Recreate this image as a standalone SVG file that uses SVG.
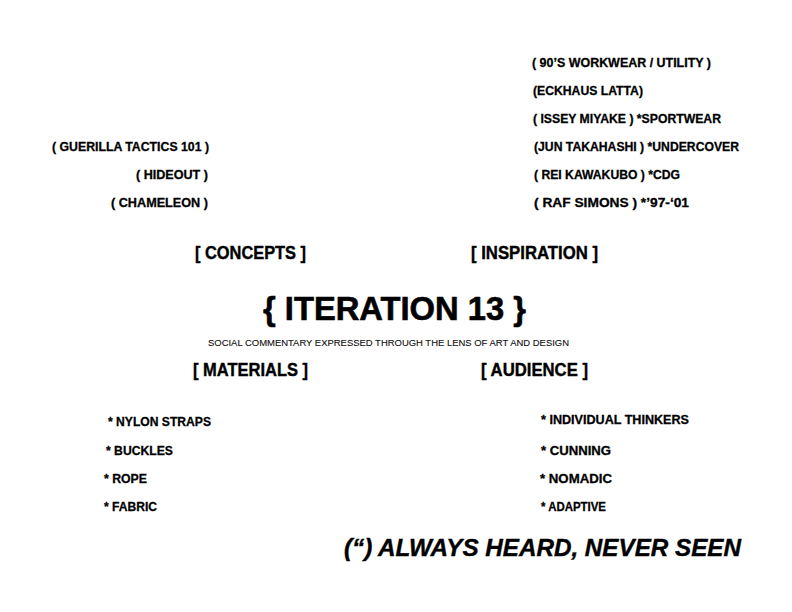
<svg xmlns="http://www.w3.org/2000/svg" width="792" height="612" viewBox="0 0 792 612">
<style>
text{font-family:"Liberation Sans",Arial,sans-serif;font-weight:bold;fill:#000;stroke:#000;stroke-width:0.3px}
.s{font-size:13px}
.h{font-size:18px;stroke-width:0.4px}
.t{font-size:33px;stroke-width:0.6px}
.sub{font-size:9px;font-weight:normal;fill:#111;stroke-width:0.1px}
.q{font-size:24px;font-style:italic;stroke-width:0.4px}
</style>
<rect width="792" height="612" fill="#fff"/>
<g id="title">
<text class="t" x="263" y="319.5" textLength="263" lengthAdjust="spacingAndGlyphs">{ ITERATION 13 }</text>
<text class="sub" x="208" y="346" textLength="361" lengthAdjust="spacingAndGlyphs">SOCIAL COMMENTARY EXPRESSED THROUGH THE LENS OF ART AND DESIGN</text>
</g>
<g id="concepts">
<text class="h" x="195" y="258.5" textLength="111" lengthAdjust="spacingAndGlyphs">[ CONCEPTS ]</text>
<text class="s" x="52" y="151" textLength="157" lengthAdjust="spacingAndGlyphs">( GUERILLA TACTICS 101 )</text>
<text class="s" x="136" y="179" textLength="72" lengthAdjust="spacingAndGlyphs">( HIDEOUT )</text>
<text class="s" x="111" y="207" textLength="97" lengthAdjust="spacingAndGlyphs">( CHAMELEON )</text>
</g>
<g id="inspiration">
<text class="h" x="471" y="258.5" textLength="127" lengthAdjust="spacingAndGlyphs">[ INSPIRATION ]</text>
<text class="s" x="532" y="67" textLength="179" lengthAdjust="spacingAndGlyphs">( 90’S WORKWEAR / UTILITY )</text>
<text class="s" x="533" y="95" textLength="110" lengthAdjust="spacingAndGlyphs">(ECKHAUS LATTA)</text>
<text class="s" x="533" y="123" textLength="188" lengthAdjust="spacingAndGlyphs">( ISSEY MIYAKE ) *SPORTWEAR</text>
<text class="s" x="534" y="151" textLength="205" lengthAdjust="spacingAndGlyphs">(JUN TAKAHASHI ) *UNDERCOVER</text>
<text class="s" x="534" y="179" textLength="146" lengthAdjust="spacingAndGlyphs">( REI KAWAKUBO ) *CDG</text>
<text class="s" x="534" y="207" textLength="155" lengthAdjust="spacingAndGlyphs">( RAF SIMONS ) *’97-‘01</text>
</g>
<g id="materials">
<text class="h" x="193" y="375.5" textLength="115" lengthAdjust="spacingAndGlyphs">[ MATERIALS ]</text>
<text class="s" x="108" y="426" textLength="103" lengthAdjust="spacingAndGlyphs">* NYLON STRAPS</text>
<text class="s" x="106" y="454.5" textLength="67" lengthAdjust="spacingAndGlyphs">* BUCKLES</text>
<text class="s" x="104" y="483" textLength="43" lengthAdjust="spacingAndGlyphs">* ROPE</text>
<text class="s" x="104" y="511" textLength="53" lengthAdjust="spacingAndGlyphs">* FABRIC</text>
</g>
<g id="audience">
<text class="h" x="481" y="375.5" textLength="107" lengthAdjust="spacingAndGlyphs">[ AUDIENCE ]</text>
<text class="s" x="541" y="424" textLength="148" lengthAdjust="spacingAndGlyphs">* INDIVIDUAL THINKERS</text>
<text class="s" x="541" y="455" textLength="70" lengthAdjust="spacingAndGlyphs">* CUNNING</text>
<text class="s" x="540" y="483" textLength="72" lengthAdjust="spacingAndGlyphs">* NOMADIC</text>
<text class="s" x="541" y="511" textLength="65" lengthAdjust="spacingAndGlyphs">* ADAPTIVE</text>
</g>
<g id="tagline">
<text class="q" x="344" y="556" textLength="397" lengthAdjust="spacingAndGlyphs">(“) ALWAYS HEARD, NEVER SEEN</text>
</g>
<g id="connectors"></g>
</svg>
